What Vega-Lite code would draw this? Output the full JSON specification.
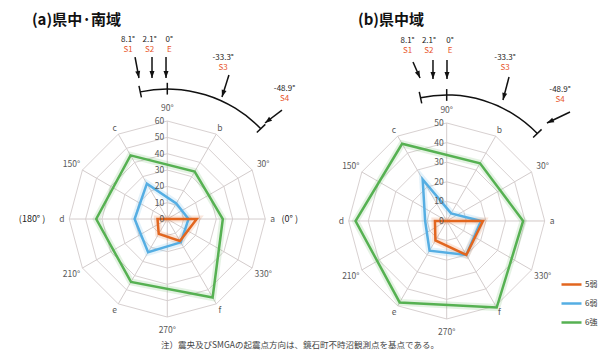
{
  "$schema": "https://vega.github.io/schema/vega-lite/v6.json",
  "padding": 0,
  "spacing": 0,
  "bounds": "flush",
  "background": "white",
  "config": {"view": {"stroke": null}, "font": "Noto Sans CJK JP"},
  "datasets": {
    "counts": [
      {"panel": "a", "series": "6強", "dir": "a", "deg": 0, "value": 34},
      {"panel": "a", "series": "6強", "dir": "b", "deg": 60, "value": 33.5},
      {"panel": "a", "series": "6強", "dir": "c", "deg": 120, "value": 45},
      {"panel": "a", "series": "6強", "dir": "d", "deg": 180, "value": 43.5},
      {"panel": "a", "series": "6強", "dir": "e", "deg": 240, "value": 44.5},
      {"panel": "a", "series": "6強", "dir": "f", "deg": 300, "value": 55.5},
      {"panel": "a", "series": "6弱", "dir": "a", "deg": 0, "value": 13},
      {"panel": "a", "series": "6弱", "dir": "b", "deg": 60, "value": 11},
      {"panel": "a", "series": "6弱", "dir": "c", "deg": 120, "value": 25},
      {"panel": "a", "series": "6弱", "dir": "d", "deg": 180, "value": 20},
      {"panel": "a", "series": "6弱", "dir": "e", "deg": 240, "value": 23.5},
      {"panel": "a", "series": "6弱", "dir": "f", "deg": 300, "value": 16.5},
      {"panel": "a", "series": "5弱", "dir": "a", "deg": 0, "value": 18},
      {"panel": "a", "series": "5弱", "dir": "b", "deg": 60, "value": 0},
      {"panel": "a", "series": "5弱", "dir": "c", "deg": 120, "value": 0},
      {"panel": "a", "series": "5弱", "dir": "d", "deg": 180, "value": 6},
      {"panel": "a", "series": "5弱", "dir": "e", "deg": 240, "value": 10.5},
      {"panel": "a", "series": "5弱", "dir": "f", "deg": 300, "value": 15.5},
      {"panel": "b", "series": "6強", "dir": "a", "deg": 0, "value": 39},
      {"panel": "b", "series": "6強", "dir": "b", "deg": 60, "value": 34},
      {"panel": "b", "series": "6強", "dir": "c", "deg": 120, "value": 45.5},
      {"panel": "b", "series": "6強", "dir": "d", "deg": 180, "value": 46.5},
      {"panel": "b", "series": "6強", "dir": "e", "deg": 240, "value": 48},
      {"panel": "b", "series": "6強", "dir": "f", "deg": 300, "value": 51},
      {"panel": "b", "series": "6弱", "dir": "a", "deg": 0, "value": 17.5},
      {"panel": "b", "series": "6弱", "dir": "b", "deg": 60, "value": 4.5},
      {"panel": "b", "series": "6弱", "dir": "c", "deg": 120, "value": 24.5},
      {"panel": "b", "series": "6弱", "dir": "d", "deg": 180, "value": 11},
      {"panel": "b", "series": "6弱", "dir": "e", "deg": 240, "value": 17.5},
      {"panel": "b", "series": "6弱", "dir": "f", "deg": 300, "value": 20},
      {"panel": "b", "series": "5弱", "dir": "a", "deg": 0, "value": 18.5},
      {"panel": "b", "series": "5弱", "dir": "b", "deg": 60, "value": 0},
      {"panel": "b", "series": "5弱", "dir": "c", "deg": 120, "value": 0},
      {"panel": "b", "series": "5弱", "dir": "d", "deg": 180, "value": 6},
      {"panel": "b", "series": "5弱", "dir": "e", "deg": 240, "value": 11.5},
      {"panel": "b", "series": "5弱", "dir": "f", "deg": 300, "value": 20}
    ],
    "spokes": [
      {"label": "90°", "deg": 90}, {"label": "b", "deg": 60}, {"label": "30°", "deg": 30},
      {"label": "a", "deg": 0}, {"label": "330°", "deg": -30}, {"label": "f", "deg": -60},
      {"label": "270°", "deg": -90}, {"label": "e", "deg": -120}, {"label": "210°", "deg": -150},
      {"label": "d", "deg": 180}, {"label": "150°", "deg": 150}, {"label": "c", "deg": 120}
    ],
    "gridLevels": [
      {"panel": "a", "level": 0}, {"panel": "a", "level": 10}, {"panel": "a", "level": 20},
      {"panel": "a", "level": 30}, {"panel": "a", "level": 40}, {"panel": "a", "level": 50},
      {"panel": "a", "level": 60},
      {"panel": "b", "level": 0}, {"panel": "b", "level": 10}, {"panel": "b", "level": 20},
      {"panel": "b", "level": 30}, {"panel": "b", "level": 40}, {"panel": "b", "level": 50}
    ],
    "sources": [
      {"panel": "a", "ang": "8.1°", "name": "S1", "x": -0.401, "y": 1.826},
      {"panel": "a", "ang": "2.1°", "name": "S2", "x": -0.18, "y": 1.826},
      {"panel": "a", "ang": "0°", "name": "E", "x": 0.02, "y": 1.826},
      {"panel": "a", "ang": "-33.3°", "name": "S3", "x": 0.57, "y": 1.642},
      {"panel": "a", "ang": "-48.9°", "name": "S4", "x": 1.196, "y": 1.326},
      {"panel": "b", "ang": "8.1°", "name": "S1", "x": -0.4, "y": 1.836},
      {"panel": "b", "ang": "2.1°", "name": "S2", "x": -0.181, "y": 1.836},
      {"panel": "b", "ang": "0°", "name": "E", "x": 0.034, "y": 1.836},
      {"panel": "b", "ang": "-33.3°", "name": "S3", "x": 0.595, "y": 1.663},
      {"panel": "b", "ang": "-48.9°", "name": "S4", "x": 1.156, "y": 1.336}
    ],
    "arrows": [
      {"panel": "a", "x": -0.329, "y": 1.653, "x2": -0.289, "y2": 1.439},
      {"panel": "a", "x": -0.156, "y": 1.653, "x2": -0.156, "y2": 1.439},
      {"panel": "a", "x": -0.013, "y": 1.653, "x2": -0.013, "y2": 1.439},
      {"panel": "a", "x": 0.629, "y": 1.469, "x2": 0.558, "y2": 1.245},
      {"panel": "a", "x": 1.17, "y": 1.112, "x2": 0.997, "y2": 0.98},
      {"panel": "b", "x": -0.344, "y": 1.622, "x2": -0.272, "y2": 1.459},
      {"panel": "b", "x": -0.14, "y": 1.643, "x2": -0.14, "y2": 1.449},
      {"panel": "b", "x": 0.003, "y": 1.643, "x2": 0.003, "y2": 1.449},
      {"panel": "b", "x": 0.636, "y": 1.469, "x2": 0.574, "y2": 1.235},
      {"panel": "b", "x": 1.258, "y": 1.112, "x2": 1.023, "y2": 1.0}
    ],
    "arcTicks": [{"deg": 102}, {"deg": 90}, {"deg": 44}]
  },
  "resolve": {
    "scale": {"x": "independent", "y": "independent", "size": "independent", "color": "shared"}
  },
  "hconcat": [
    {
      "width": 307,
      "height": 357,
      "encoding": {
        "x": {"field": "x", "type": "quantitative", "scale": {"domain": [-1.707, 1.4255], "nice": false, "zero": false}, "axis": null},
        "y": {"field": "y", "type": "quantitative", "scale": {"domain": [-1.408, 2.235], "nice": false, "zero": false}, "axis": null}
      },
      "layer": [
        {
          "data": {"name": "gridLevels"},
          "transform": [{"filter": "datum.panel == 'a' && datum.level > 0"}, {"calculate": "0", "as": "x"}, {"calculate": "0", "as": "y"}],
          "mark": {"type": "point", "shape": "M1,0L0.866,-0.5L0.5,-0.866L0,-1L-0.5,-0.866L-0.866,-0.5L-1,0L-0.866,0.5L-0.5,0.866L0,1L0.5,0.866L0.866,0.5Z", "filled": false, "stroke": "#d8d1d1", "strokeWidth": 1, "opacity": 1},
          "encoding": {
            "size": {"field": "level", "type": "quantitative", "scale": {"type": "pow", "exponent": 2, "domain": [0, 60], "range": [0, 38416]}, "legend": null}
          }
        },
        {
          "data": {"name": "spokes"},
          "transform": [
            {"calculate": "cos(datum.deg*PI/180)", "as": "x2"},
            {"calculate": "sin(datum.deg*PI/180)", "as": "y2"},
            {"calculate": "0", "as": "x"}, {"calculate": "0", "as": "y"}
          ],
          "mark": {"type": "rule", "stroke": "#d3cccc", "strokeWidth": 1},
          "encoding": {"x2": {"field": "x2"}, "y2": {"field": "y2"}}
        },
        {
          "data": {"name": "counts"},
          "transform": [
            {"filter": "datum.panel == 'a'"},
            {"calculate": "datum.value/60*cos(datum.deg*PI/180)", "as": "x"},
            {"calculate": "datum.value/60*sin(datum.deg*PI/180)", "as": "y"}
          ],
          "mark": {"type": "line", "interpolate": "linear-closed", "strokeWidth": 7, "opacity": 0.16},
          "encoding": {
            "detail": {"field": "series"},
            "stroke": {"condition": [{"test": "datum.series == '5弱'", "value": "#e2661f"}, {"test": "datum.series == '6弱'", "value": "#55aee3"}], "value": "#56b152"},
            "order": {"field": "deg", "type": "quantitative"}
          }
        },
        {
          "data": {"name": "counts"},
          "transform": [
            {"filter": "datum.panel == 'a'"},
            {"calculate": "datum.value/60*cos(datum.deg*PI/180)", "as": "x"},
            {"calculate": "datum.value/60*sin(datum.deg*PI/180)", "as": "y"}
          ],
          "mark": {"type": "line", "interpolate": "linear-closed", "strokeWidth": 2.5},
          "encoding": {
            "color": {"field": "series", "type": "nominal", "scale": {"domain": ["5弱", "6弱", "6強"], "range": ["#e2661f", "#55aee3", "#56b152"]},
              "legend": {"title": null, "orient": "none", "legendX": 560, "legendY": 273, "symbolType": "stroke", "symbolSize": 400, "symbolStrokeWidth": 2.5, "symbolOpacity": 1, "labelFontSize": 8, "labelColor": "#333333", "rowPadding": 2, "labelOffset": 2, "padding": 0}},
            "order": {"field": "deg", "type": "quantitative"}
          }
        },
        {
          "data": {"name": "gridLevels"},
          "transform": [{"filter": "datum.panel == 'a'"}, {"calculate": "datum.level/60", "as": "y"}, {"calculate": "0", "as": "x"}],
          "mark": {"type": "text", "align": "right", "baseline": "middle", "dx": -3, "fontSize": 8.5, "color": "#595959"},
          "encoding": {"text": {"field": "level", "type": "quantitative"}}
        },
        {
          "data": {"name": "spokes"},
          "transform": [
            {"calculate": "length(datum.label) > 1 ? 1.13 : 1.075", "as": "r"},
            {"calculate": "datum.r*cos(datum.deg*PI/180)", "as": "x"},
            {"calculate": "datum.r*sin(datum.deg*PI/180)", "as": "y"}
          ],
          "mark": {"type": "text", "align": "center", "baseline": "middle", "fontSize": 8.5, "color": "#595959"},
          "encoding": {"text": {"field": "label"}}
        },
        {
          "data": {"values": [{"label": "(0° )", "x": 1.25, "y": 0}, {"label": "(180° )", "x": -1.38, "y": 0}]},
          "mark": {"type": "text", "align": "center", "baseline": "middle", "fontSize": 9, "color": "#222222"},
          "encoding": {"text": {"field": "label"}}
        },
        {
          "data": {"values": [{"center": "E"}]},
          "transform": [{"calculate": "0", "as": "x"}, {"calculate": "0", "as": "y"}],
          "mark": {"type": "arc", "radius": 130.75, "radius2": 129.25, "theta": -0.2094, "theta2": 0.8029, "color": "#111111"}
        },
        {
          "data": {"name": "arcTicks"},
          "transform": [
            {"calculate": "1.27*cos(datum.deg*PI/180)", "as": "x"},
            {"calculate": "1.27*sin(datum.deg*PI/180)", "as": "y"},
            {"calculate": "1.39*cos(datum.deg*PI/180)", "as": "x2"},
            {"calculate": "1.39*sin(datum.deg*PI/180)", "as": "y2"}
          ],
          "mark": {"type": "rule", "color": "#111111", "strokeWidth": 1.5},
          "encoding": {"x2": {"field": "x2"}, "y2": {"field": "y2"}}
        },
        {
          "data": {"name": "arrows"},
          "transform": [{"filter": "datum.panel == 'a'"}],
          "mark": {"type": "rule", "color": "#111111", "strokeWidth": 1.5},
          "encoding": {"x2": {"field": "x2"}, "y2": {"field": "y2"}}
        },
        {
          "data": {"name": "arrows"},
          "transform": [{"filter": "datum.panel == 'a'"}, {"calculate": "atan2(datum.x2 - datum.x, datum.y2 - datum.y)*180/PI", "as": "rot"}],
          "mark": {"type": "point", "shape": "M0,0L0.5,1.4L-0.5,1.4Z", "filled": true, "color": "#111111", "size": 100, "opacity": 1},
          "encoding": {
            "x": {"field": "x2", "type": "quantitative", "axis": null},
            "y": {"field": "y2", "type": "quantitative", "axis": null},
            "angle": {"field": "rot", "type": "quantitative", "scale": null}
          }
        },
        {
          "data": {"name": "sources"},
          "transform": [{"filter": "datum.panel == 'a'"}],
          "mark": {"type": "text", "align": "center", "baseline": "middle", "fontSize": 8, "color": "#222222"},
          "encoding": {"text": {"field": "ang"}}
        },
        {
          "data": {"name": "sources"},
          "transform": [{"filter": "datum.panel == 'a'"}],
          "mark": {"type": "text", "align": "center", "baseline": "middle", "dy": 10, "fontSize": 8, "color": "#e8552a"},
          "encoding": {"text": {"field": "name"}}
        },
        {
          "data": {"values": [{"t": "(a)県中·南域", "x": -1.381, "y": 2.031}]},
          "mark": {"type": "text", "align": "left", "baseline": "middle", "fontSize": 15, "fontWeight": "bold", "color": "#111111"},
          "encoding": {"text": {"field": "t"}}
        },
        {
          "data": {"values": [{"t": "注）震央及びSMGAの起震点方向は、鏡石町不時沼観測点を基点である。", "x": 1.354, "y": -1.286}]},
          "mark": {"type": "text", "align": "center", "baseline": "middle", "fontSize": 8.5, "color": "#444444"},
          "encoding": {"text": {"field": "t"}}
        }
      ]
    },
    {
      "width": 308,
      "height": 357,
      "encoding": {
        "x": {"field": "x", "type": "quantitative", "scale": {"domain": [-1.4255, 1.7173], "nice": false, "zero": false}, "axis": null},
        "y": {"field": "y", "type": "quantitative", "scale": {"domain": [-1.388, 2.255], "nice": false, "zero": false}, "axis": null}
      },
      "layer": [
        {
          "data": {"name": "gridLevels"},
          "transform": [{"filter": "datum.panel == 'b' && datum.level > 0"}, {"calculate": "0", "as": "x"}, {"calculate": "0", "as": "y"}],
          "mark": {"type": "point", "shape": "M1,0L0.866,-0.5L0.5,-0.866L0,-1L-0.5,-0.866L-0.866,-0.5L-1,0L-0.866,0.5L-0.5,0.866L0,1L0.5,0.866L0.866,0.5Z", "filled": false, "stroke": "#d8d1d1", "strokeWidth": 1, "opacity": 1},
          "encoding": {
            "size": {"field": "level", "type": "quantitative", "scale": {"type": "pow", "exponent": 2, "domain": [0, 50], "range": [0, 38416]}, "legend": null}
          }
        },
        {
          "data": {"name": "spokes"},
          "transform": [
            {"calculate": "cos(datum.deg*PI/180)", "as": "x2"},
            {"calculate": "sin(datum.deg*PI/180)", "as": "y2"},
            {"calculate": "0", "as": "x"}, {"calculate": "0", "as": "y"}
          ],
          "mark": {"type": "rule", "stroke": "#d3cccc", "strokeWidth": 1},
          "encoding": {"x2": {"field": "x2"}, "y2": {"field": "y2"}}
        },
        {
          "data": {"name": "counts"},
          "transform": [
            {"filter": "datum.panel == 'b'"},
            {"calculate": "datum.value/50*cos(datum.deg*PI/180)", "as": "x"},
            {"calculate": "datum.value/50*sin(datum.deg*PI/180)", "as": "y"}
          ],
          "mark": {"type": "line", "interpolate": "linear-closed", "strokeWidth": 7, "opacity": 0.16},
          "encoding": {
            "detail": {"field": "series"},
            "stroke": {"condition": [{"test": "datum.series == '5弱'", "value": "#e2661f"}, {"test": "datum.series == '6弱'", "value": "#55aee3"}], "value": "#56b152"},
            "order": {"field": "deg", "type": "quantitative"}
          }
        },
        {
          "data": {"name": "counts"},
          "transform": [
            {"filter": "datum.panel == 'b'"},
            {"calculate": "datum.value/50*cos(datum.deg*PI/180)", "as": "x"},
            {"calculate": "datum.value/50*sin(datum.deg*PI/180)", "as": "y"}
          ],
          "mark": {"type": "line", "interpolate": "linear-closed", "strokeWidth": 2.5},
          "encoding": {
            "color": {"field": "series", "type": "nominal", "scale": {"domain": ["5弱", "6弱", "6強"], "range": ["#e2661f", "#55aee3", "#56b152"]},
              "legend": {"title": null, "orient": "none", "legendX": 560, "legendY": 273, "symbolType": "stroke", "symbolSize": 400, "symbolStrokeWidth": 2.5, "symbolOpacity": 1, "labelFontSize": 8, "labelColor": "#333333", "rowPadding": 2, "labelOffset": 2, "padding": 0}},
            "order": {"field": "deg", "type": "quantitative"}
          }
        },
        {
          "data": {"name": "gridLevels"},
          "transform": [{"filter": "datum.panel == 'b'"}, {"calculate": "datum.level/50", "as": "y"}, {"calculate": "0", "as": "x"}],
          "mark": {"type": "text", "align": "right", "baseline": "middle", "dx": -3, "fontSize": 8.5, "color": "#595959"},
          "encoding": {"text": {"field": "level", "type": "quantitative"}}
        },
        {
          "data": {"name": "spokes"},
          "transform": [
            {"calculate": "length(datum.label) > 1 ? 1.13 : 1.075", "as": "r"},
            {"calculate": "datum.r*cos(datum.deg*PI/180)", "as": "x"},
            {"calculate": "datum.r*sin(datum.deg*PI/180)", "as": "y"}
          ],
          "mark": {"type": "text", "align": "center", "baseline": "middle", "fontSize": 8.5, "color": "#595959"},
          "encoding": {"text": {"field": "label"}}
        },
        {
          "data": {"values": [{"center": "E"}]},
          "transform": [{"calculate": "0", "as": "x"}, {"calculate": "0", "as": "y"}],
          "mark": {"type": "arc", "radius": 126.75, "radius2": 125.25, "theta": -0.2094, "theta2": 0.8029, "color": "#111111"}
        },
        {
          "data": {"name": "arcTicks"},
          "transform": [
            {"calculate": "1.226*cos(datum.deg*PI/180)", "as": "x"},
            {"calculate": "1.226*sin(datum.deg*PI/180)", "as": "y"},
            {"calculate": "1.346*cos(datum.deg*PI/180)", "as": "x2"},
            {"calculate": "1.346*sin(datum.deg*PI/180)", "as": "y2"}
          ],
          "mark": {"type": "rule", "color": "#111111", "strokeWidth": 1.5},
          "encoding": {"x2": {"field": "x2"}, "y2": {"field": "y2"}}
        },
        {
          "data": {"name": "arrows"},
          "transform": [{"filter": "datum.panel == 'b'"}],
          "mark": {"type": "rule", "color": "#111111", "strokeWidth": 1.5},
          "encoding": {"x2": {"field": "x2"}, "y2": {"field": "y2"}}
        },
        {
          "data": {"name": "arrows"},
          "transform": [{"filter": "datum.panel == 'b'"}, {"calculate": "atan2(datum.x2 - datum.x, datum.y2 - datum.y)*180/PI", "as": "rot"}],
          "mark": {"type": "point", "shape": "M0,0L0.5,1.4L-0.5,1.4Z", "filled": true, "color": "#111111", "size": 100, "opacity": 1},
          "encoding": {
            "x": {"field": "x2", "type": "quantitative", "axis": null},
            "y": {"field": "y2", "type": "quantitative", "axis": null},
            "angle": {"field": "rot", "type": "quantitative", "scale": null}
          }
        },
        {
          "data": {"name": "sources"},
          "transform": [{"filter": "datum.panel == 'b'"}],
          "mark": {"type": "text", "align": "center", "baseline": "middle", "fontSize": 8, "color": "#222222"},
          "encoding": {"text": {"field": "ang"}}
        },
        {
          "data": {"name": "sources"},
          "transform": [{"filter": "datum.panel == 'b'"}],
          "mark": {"type": "text", "align": "center", "baseline": "middle", "dy": 10, "fontSize": 8, "color": "#e8552a"},
          "encoding": {"text": {"field": "name"}}
        },
        {
          "data": {"values": [{"t": "(b)県中域", "x": -0.905, "y": 2.051}]},
          "mark": {"type": "text", "align": "left", "baseline": "middle", "fontSize": 15, "fontWeight": "bold", "color": "#111111"},
          "encoding": {"text": {"field": "t"}}
        }
      ]
    }
  ]
}
